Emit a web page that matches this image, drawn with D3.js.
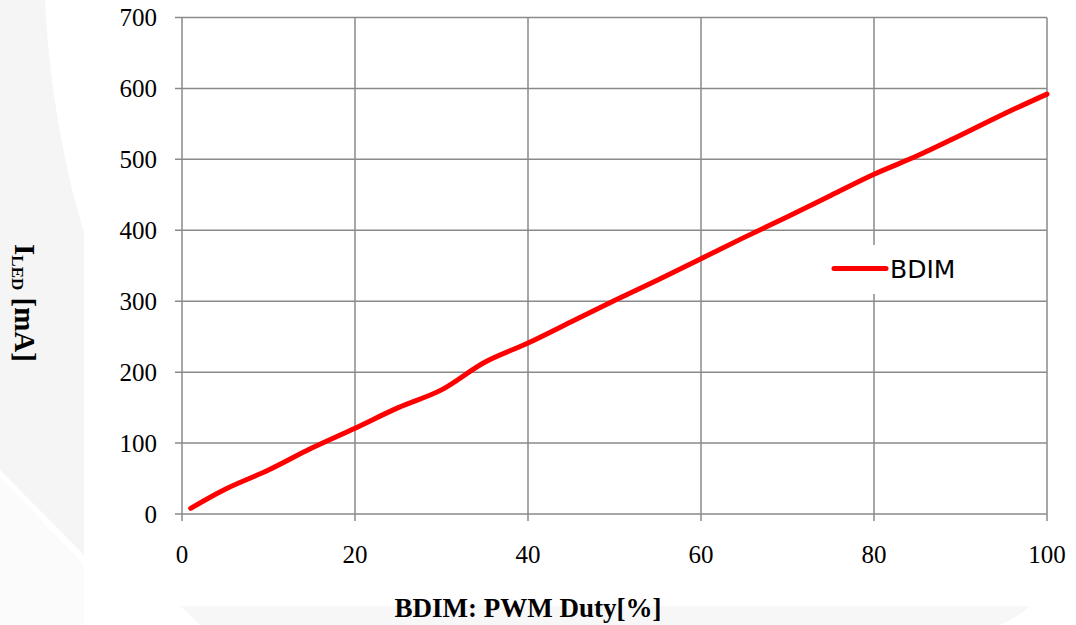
<!DOCTYPE html>
<html lang="en"><head>
<meta charset="utf-8">
<title>BDIM</title>
<script src="https://cdnjs.cloudflare.com/ajax/libs/d3/7.8.5/d3.min.js"></script>
<style>
body { margin: 0; background: #fff; }
svg { display: block; }
.serif { font-family: "Liberation Serif", "Times New Roman", Times, serif; }
</style>
</head>
<body>
<div id="chart"></div>
<script type="text/javascript">

var duty = [1, 5, 10, 15, 20, 25, 30, 35, 40, 45, 50, 55, 60, 65, 70, 75, 80, 85, 90, 95, 100];
var iled = [8, 35, 62, 93, 121, 150, 175, 214, 241, 271, 301, 330, 360, 390, 419, 449, 479, 505, 534, 564, 592];
var xTicks = [0, 20, 40, 60, 80, 100];
var yTicks = [0, 100, 200, 300, 400, 500, 600, 700];
var seriesName = "BDIM";

var width = 1076, height = 625;
var plotL = 182, plotR = 1047, plotT = 17.5, plotB = 514;

var svg = d3.select("#chart").append("svg")
    .attr("width", width).attr("height", height);

// faint background watermark
var bg = svg.append("g");
bg.append("path")
    .attr("d", "M0,0 L45,0 C50,100 68,180 84,232 L84,555 C60,530 25,495 0,470 Z")
    .attr("fill", "#f5f5f5");
bg.append("path")
    .attr("d", "M0,478 C25,503 60,540 84,565 L84,625 L0,625 Z")
    .attr("fill", "#fbfbfb");
bg.append("path")
    .attr("d", "M180,606 L1030,606 C1020,615 1010,620 1000,625 L200,625 Z")
    .attr("fill", "#f7f7f7");

var x = d3.scaleLinear().domain([0, 100]).range([plotL, plotR]);
var y = d3.scaleLinear().domain([0, 700]).range([plotB, plotT]);

var gridColor = "#8a8a8a";

// horizontal grid + y ticks
svg.append("g")
    .selectAll("line")
    .data(yTicks)
    .enter()
    .append("line")
    .attr("x1", plotL - 7).attr("x2", plotR)
    .attr("y1", function(d) { return y(d); })
    .attr("y2", function(d) { return y(d); })
    .attr("stroke", gridColor).attr("stroke-width", 1.5);

// vertical grid + x ticks
svg.append("g")
    .selectAll("line")
    .data(xTicks)
    .enter()
    .append("line")
    .attr("x1", function(d) { return x(d); })
    .attr("x2", function(d) { return x(d); })
    .attr("y1", plotT).attr("y2", plotB + 7)
    .attr("stroke", gridColor).attr("stroke-width", 1.5);

// tick labels
svg.append("g")
    .selectAll("text")
    .data(yTicks)
    .enter()
    .append("text")
    .attr("class", "serif")
    .attr("x", plotL - 25)
    .attr("y", function(d) { return y(d); })
    .attr("dy", "0.35em")
    .attr("text-anchor", "end")
    .attr("font-size", 25)
    .attr("fill", "#000")
    .text(function(d) { return d; });

svg.append("g")
    .selectAll("text")
    .data(xTicks)
    .enter()
    .append("text")
    .attr("class", "serif")
    .attr("x", function(d) { return x(d); })
    .attr("y", 563)
    .attr("text-anchor", "middle")
    .attr("font-size", 25)
    .attr("fill", "#000")
    .text(function(d) { return d; });

// axis titles
svg.append("text")
    .attr("class", "serif")
    .attr("x", 528).attr("y", 617)
    .attr("text-anchor", "middle")
    .attr("font-weight", "bold")
    .attr("font-size", 27)
    .text("BDIM: PWM Duty[%]");

var yt = svg.append("text")
    .attr("class", "serif")
    .attr("transform", "translate(15,303) rotate(90)")
    .attr("text-anchor", "middle")
    .attr("font-weight", "bold")
    .attr("font-size", 29);
yt.append("tspan").text("I");
yt.append("tspan").attr("font-size", 17).attr("dy", 3).text("LED");
yt.append("tspan").attr("dy", -3).text(" [mA]");

// legend
var lg = svg.append("g");
lg.append("rect")
    .attr("x", 826).attr("y", 245).attr("width", 140).attr("height", 49)
    .attr("fill", "#fff");
lg.append("line")
    .attr("x1", 834).attr("x2", 886).attr("y1", 268.5).attr("y2", 268.5)
    .attr("stroke", "#ff0000").attr("stroke-width", 5).attr("stroke-linecap", "round");
lg.append("text")
    .attr("x", 890).attr("y", 278)
    .attr("font-family", "'DejaVu Sans', sans-serif")
    .attr("font-size", 25)
    .attr("fill", "#000")
    .text(seriesName);

// the series
var pts = duty.map(function(d, i) { return [d, iled[i]]; });
var line = d3.line()
    .x(function(d) { return x(d[0]); })
    .y(function(d) { return y(d[1]); })
    .curve(d3.curveCatmullRom.alpha(0.5));

svg.append("path")
    .datum(pts)
    .attr("d", line)
    .attr("fill", "none")
    .attr("stroke", "#ff0000")
    .attr("stroke-width", 5)
    .attr("stroke-linecap", "round")
    .attr("stroke-linejoin", "round");

</script>
</body></html>
